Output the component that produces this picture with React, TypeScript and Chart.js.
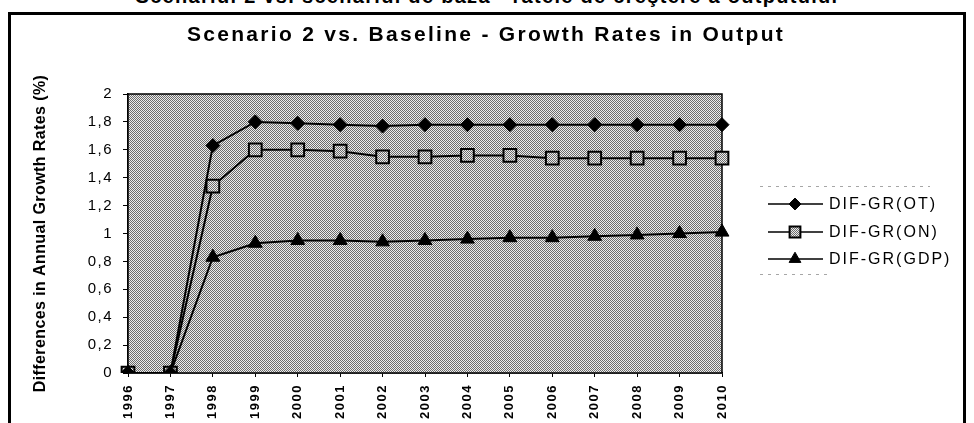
import React, { useEffect, useRef } from 'react';
import { Chart, registerables } from 'chart.js';
import { drawPoint } from 'chart.js/helpers';

Chart.register(...registerables);

const FONT = '"Liberation Sans", Arial, sans-serif';

const years = ['1996', '1997', '1998', '1999', '2000', '2001', '2002', '2003', '2004', '2005', '2006', '2007', '2008', '2009', '2010'];
const difGrOT = [0, 0, 1.63, 1.8, 1.79, 1.78, 1.77, 1.78, 1.78, 1.78, 1.78, 1.78, 1.78, 1.78, 1.78];
const difGrON = [0, 0, 1.34, 1.6, 1.6, 1.59, 1.55, 1.55, 1.56, 1.56, 1.54, 1.54, 1.54, 1.54, 1.54];
const difGrGDP = [0, 0, 0.83, 0.93, 0.95, 0.95, 0.94, 0.95, 0.96, 0.97, 0.97, 0.98, 0.99, 1.0, 1.01];
const seriesNames = ['DIF-GR(OT)', 'DIF-GR(ON)', 'DIF-GR(GDP)'];
const yTickLabels = ['0', '0,2', '0,4', '0,6', '0,8', '1', '1,2', '1,4', '1,6', '1,8', '2'];
const chartTitle = 'Scenario 2 vs. Baseline - Growth Rates in Output';
const yAxisTitle = 'Differences in Annual Growth Rates (%)';
const pageHeading = 'Scenariul 2 vs. scenariul de bază - ratele de creştere a outputului';

function makePattern(): CanvasPattern | string {
  const c = document.createElement('canvas');
  c.width = 2;
  c.height = 2;
  const g = c.getContext('2d');
  if (!g) return '#ababab';
  g.fillStyle = '#ececec';
  g.fillRect(0, 0, 2, 2);
  g.fillStyle = '#6c6c6c';
  g.fillRect(0, 0, 1, 1);
  g.fillRect(1, 1, 1, 1);
  return g.createPattern(c, 'repeat') || '#ababab';
}

const spacingPlugin = {
  id: 'spacing',
  beforeLayout(chart: any) {
    chart.ctx.letterSpacing = '1.5px';
  },
  beforeDraw(chart: any) {
    chart.ctx.letterSpacing = '1.5px';
  },
};

const decorPlugin = {
  id: 'decor',
  beforeDatasetsDraw(chart: any) {
    const { ctx, chartArea } = chart;
    ctx.save();
    ctx.fillStyle = (chart as any).$bgPattern;
    ctx.fillRect(chartArea.left, chartArea.top, chartArea.right - chartArea.left, chartArea.bottom - chartArea.top);
    ctx.strokeStyle = '#000';
    ctx.lineWidth = 1.5;
    ctx.strokeRect(chartArea.left, chartArea.top, chartArea.right - chartArea.left, chartArea.bottom - chartArea.top);
    ctx.restore();
  },
  afterDraw(chart: any) {
    const { ctx, chartArea } = chart;
    // chart title
    ctx.save();
    ctx.letterSpacing = '2.3px';
    ctx.font = `bold 21px ${FONT}`;
    ctx.fillStyle = '#000';
    ctx.textAlign = 'center';
    ctx.textBaseline = 'middle';
    ctx.fillText(chartTitle, 486, 35);
    ctx.restore();

    // y axis title
    ctx.save();
    ctx.letterSpacing = '0.4px';
    ctx.translate(41, (chartArea.top + chartArea.bottom) / 2);
    ctx.rotate(-Math.PI / 2);
    ctx.font = `bold 16px ${FONT}`;
    ctx.fillStyle = '#000';
    ctx.textAlign = 'center';
    ctx.textBaseline = 'middle';
    ctx.fillText(yAxisTitle, 0, 0);
    ctx.restore();

    // legend
    ctx.save();
    ctx.strokeStyle = 'rgba(0,0,0,0.35)';
    ctx.lineWidth = 1;
    ctx.setLineDash([3, 5]);
    ctx.beginPath();
    ctx.moveTo(760, 186.5);
    ctx.lineTo(930, 186.5);
    ctx.moveTo(760, 274.5);
    ctx.lineTo(827, 274.5);
    ctx.stroke();
    ctx.setLineDash([]);
    const ys = [204, 232, 259];
    chart.data.datasets.forEach((ds: any, i: number) => {
      const y = ys[i];
      ctx.strokeStyle = '#000';
      ctx.lineWidth = 1.5;
      ctx.beginPath();
      ctx.moveTo(768, y);
      ctx.lineTo(823, y);
      ctx.stroke();
      ctx.fillStyle = ds.pointBackgroundColor;
      ctx.strokeStyle = '#000';
      ctx.lineWidth = ds.pointBorderWidth;
      drawPoint(ctx, { pointStyle: ds.pointStyle, rotation: 0, radius: ds.pointRadius * 0.85, borderWidth: ds.pointBorderWidth }, 795, y);
      ctx.letterSpacing = '2px';
      ctx.font = `16px ${FONT}`;
      ctx.fillStyle = '#000';
      ctx.textAlign = 'left';
      ctx.textBaseline = 'middle';
      ctx.fillText(ds.label, 829, y + 1);
    });
    ctx.restore();
  },
};

export default function App() {
  const ref = useRef<HTMLCanvasElement>(null);

  useEffect(() => {
    const canvas = ref.current;
    if (!canvas) return;
    const pattern = makePattern();
    const chart = new Chart(canvas, {
      type: 'line',
      data: {
        labels: years,
        datasets: [
          {
            label: seriesNames[0],
            data: difGrOT,
            borderColor: '#000',
            borderWidth: 2,
            pointStyle: 'rectRot',
            pointRadius: 7,
            pointBackgroundColor: '#000',
            pointBorderColor: '#000',
            pointBorderWidth: 1,
            tension: 0,
          },
          {
            label: seriesNames[1],
            data: difGrON,
            borderColor: '#000',
            borderWidth: 2,
            pointStyle: 'rect',
            pointRadius: 9,
            pointBackgroundColor: pattern as any,
            pointBorderColor: '#000',
            pointBorderWidth: 2,
            tension: 0,
          },
          {
            label: seriesNames[2],
            data: difGrGDP,
            borderColor: '#000',
            borderWidth: 2,
            pointStyle: 'triangle',
            pointRadius: 8,
            pointBackgroundColor: '#000',
            pointBorderColor: '#000',
            pointBorderWidth: 1,
            tension: 0,
          },
        ],
      },
      options: {
        animation: false,
        responsive: false,
        events: [],
        layout: { padding: { top: 94, left: 12, right: 252, bottom: 0 } },
        plugins: {
          legend: { display: false },
          tooltip: { enabled: false },
          title: { display: false },
        },
        scales: {
          x: {
            type: 'category',
            offset: false,
            grid: { display: true, drawOnChartArea: false, drawTicks: true, tickLength: 4, color: '#000', lineWidth: 1 },
            border: { display: true, color: '#000', width: 1.5 },
            ticks: {
              autoSkip: false,
              maxRotation: 90,
              minRotation: 90,
              padding: 7,
              color: '#000',
              font: { family: FONT, size: 13, weight: 'bold' },
            },
            afterFit: (s: any) => {
              s.height = 50;
              s.paddingLeft = 0;
              s.paddingRight = 0;
            },
          },
          y: {
            min: 0,
            max: 2,
            grid: { display: true, drawOnChartArea: false, drawTicks: true, tickLength: 5, color: '#000', lineWidth: 1 },
            border: { display: true, color: '#000', width: 1.5 },
            ticks: {
              stepSize: 0.2,
              padding: 10,
              color: '#000',
              font: { family: FONT, size: 15 },
              callback: (_v: any, i: number) => yTickLabels[i] ?? '',
            },
            afterFit: (s: any) => {
              s.width = 116;
              s.paddingTop = 0;
            },
          },
        },
      },
      plugins: [spacingPlugin, decorPlugin],
    } as any);
    (chart as any).$bgPattern = pattern;
    chart.draw();
    return () => chart.destroy();
  }, []);

  return (
    <div style={{ position: 'absolute', left: 0, top: 0, width: 974, height: 423, overflow: 'hidden', background: '#fff' }}>
      <div
        style={{
          position: 'absolute',
          left: 0,
          top: -14,
          width: 974,
          textAlign: 'center',
          fontFamily: FONT,
          fontWeight: 'bold',
          fontSize: 20,
          letterSpacing: '1.3px',
          lineHeight: '20px',
          whiteSpace: 'nowrap',
          color: '#000',
        }}
      >
        {pageHeading}
      </div>
      <div
        style={{
          position: 'absolute',
          left: 8,
          top: 12,
          width: 958,
          height: 430,
          border: '3px solid #000',
          boxSizing: 'border-box',
        }}
      />
      <canvas ref={ref} width={974} height={423} style={{ position: 'absolute', left: 0, top: 0, display: 'block' }} />
    </div>
  );
}
